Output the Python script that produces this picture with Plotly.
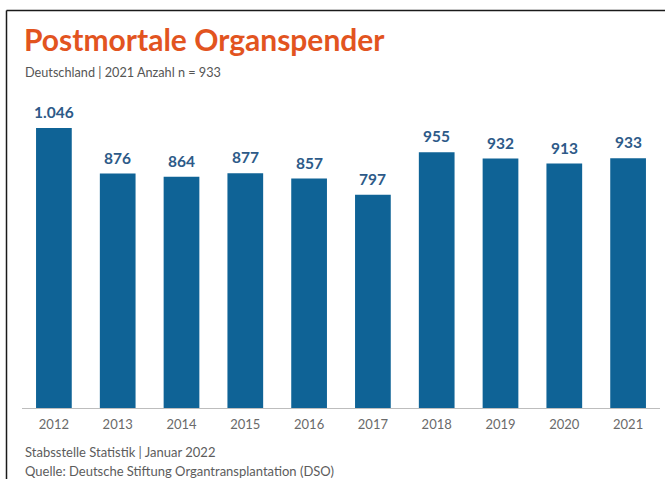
import plotly.graph_objects as go

years = ["2012", "2013", "2014", "2015", "2016", "2017", "2018", "2019", "2020", "2021"]
donors = [1046, 876, 864, 877, 857, 797, 955, 932, 913, 933]
labels = ["1.046", "876", "864", "877", "857", "797", "955", "932", "913", "933"]

title_text = "Postmortale Organspender"
subtitle_text = "Deutschland | 2021 Anzahl n = 933"
footer1 = "Stabsstelle Statistik | Januar 2022"
footer2 = "Quelle: Deutsche Stiftung Organtransplantation (DSO)"

W, H = 665, 479
ML, MR, MT, MB = 22, 5, 100, 71
PW = W - ML - MR
PH = H - MT - MB


def px(x):
    return (x - ML) / PW


def py(y):
    return (H - MB - y) / PH


FONT = "Lato"
BAR = "#0f6396"
LBL = "#2d5a88"

fig = go.Figure(
    go.Bar(
        x=years,
        y=donors,
        marker=dict(color=BAR, line=dict(width=0)),
        hoverinfo="skip",
    )
)

# value labels: category index positions on the category axis
value_annotations = [
    dict(text=t, x=i, y=yv, xref="x", yref="y", xanchor="center", yanchor="bottom",
         yshift=5, showarrow=False,
         font=dict(family=FONT, size=15.5, color=LBL, weight="bold"))
    for i, (yv, t) in enumerate(zip(donors, labels))
]

fig.update_layout(
    width=W,
    height=H,
    margin=dict(l=ML, r=MR, t=MT, b=MB),
    paper_bgcolor="white",
    plot_bgcolor="white",
    bargap=0.44,
    showlegend=False,
    xaxis=dict(
        type="category",
        categoryorder="array",
        categoryarray=years,
        range=[-0.5, len(years) - 0.5],
        showline=True,
        linecolor="#bdbdbd",
        linewidth=1,
        showgrid=False,
        ticks="",
        ticklabelstandoff=4,
        tickfont=dict(family=FONT, size=13, color="#6a6a6a"),
        fixedrange=True,
    ),
    yaxis=dict(
        visible=False,
        range=[0, (H - MB - MT) / ((408 - 128) / 1046)],
        fixedrange=True,
    ),
    shapes=[
        dict(type="line", xref="paper", yref="paper", x0=px(6.5), x1=px(W + 5), y0=py(10.5), y1=py(10.5),
             line=dict(color="#1a1a1a", width=1.5)),
        dict(type="line", xref="paper", yref="paper", x0=px(6.5), x1=px(6.5), y0=py(10.5), y1=py(H + 5),
             line=dict(color="#1a1a1a", width=1.5)),
    ],
    annotations=value_annotations + [
        dict(text=title_text, xref="paper", yref="paper", x=px(22), y=py(39), xanchor="left", yanchor="middle",
             showarrow=False, font=dict(family=FONT, size=30, color="#e2541f", weight="bold")),
        dict(text=subtitle_text, xref="paper", yref="paper", x=px(23), y=py(72), xanchor="left", yanchor="middle",
             showarrow=False, font=dict(family=FONT, size=12.7, color="#555555")),
        dict(text=footer1, xref="paper", yref="paper", x=px(23), y=py(452), xanchor="left", yanchor="middle",
             showarrow=False, font=dict(family=FONT, size=13, color="#5c5c5c")),
        dict(text=footer2, xref="paper", yref="paper", x=px(23), y=py(471), xanchor="left", yanchor="middle",
             showarrow=False, font=dict(family=FONT, size=13, color="#5c5c5c")),
    ],
)

fig.write_html(
    "out.html",
    config={"displayModeBar": False},
    post_script="document.body.style.margin='0';document.body.style.overflow='hidden';",
)
